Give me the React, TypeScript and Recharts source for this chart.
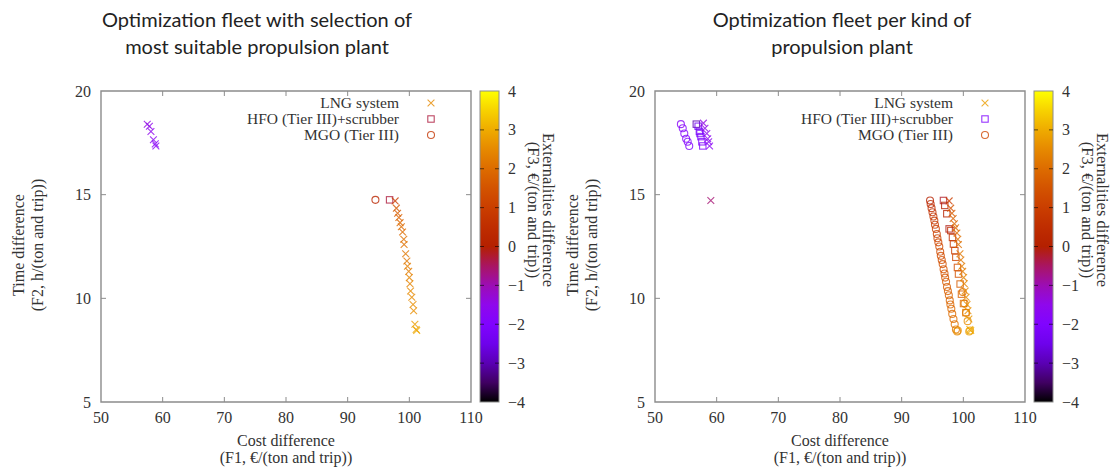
import React from "react";
import { ScatterChart, Scatter, XAxis, YAxis, ReferenceArea } from "recharts";

// x = cost difference (F1), y = time difference (F2), z = externalities difference (F3)
const xTicks = [50, 60, 70, 80, 90, 100, 110];
const yTicks = [5, 10, 15, 20];
const colorbarTicks = [4, 3, 2, 1, 0, -1, -2, -3, -4];

// --- left: fleet with selection of most suitable propulsion plant ---
const leftLngX = [57.5, 57.85, 58.1, 58.5, 58.8, 58.9, 97.7, 97.9, 98.1, 98.3, 98.5, 98.7, 98.9, 99.1, 99.15, 99.4, 99.6, 99.7, 99.9, 100.0, 100.1, 100.2, 100.4, 100.6, 100.7, 100.9, 101.2, 101.1];
const leftLngY = [18.4, 18.3, 18.05, 17.65, 17.45, 17.35, 14.7, 14.35, 14.1, 13.9, 13.65, 13.45, 13.2, 12.85, 12.6, 12.15, 11.8, 11.55, 11.3, 11.0, 10.7, 10.35, 10.05, 9.7, 9.4, 8.75, 8.45, 8.5];
const leftLngZ = [-1.4, -1.5, -1.5, -1.6, -1.7, -1.7, 1.0, 1.6, 1.7, 1.8, 1.9, 2.0, 2.0, 2.1, 2.1, 2.2, 2.2, 2.3, 2.3, 2.4, 2.4, 2.5, 2.5, 2.6, 2.6, 2.8, 3.0, 2.9];
const leftHfoX = [96.8];
const leftHfoY = [14.75];
const leftHfoZ = [-0.3];
const leftMgoX = [94.5];
const leftMgoY = [14.75];
const leftMgoZ = [0.2];

// --- right: fleet per kind of propulsion plant ---
const rightLngX = [57.85, 58.1, 58.4, 58.55, 58.7, 58.85, 59.05, 97.7, 97.95, 98.15, 98.35, 98.55, 98.75, 98.95, 99.1, 99.2, 99.45, 99.6, 99.75, 99.9, 100.05, 100.15, 100.3, 100.45, 100.6, 100.75, 100.9, 101.2, 101.05];
const rightLngY = [18.45, 18.2, 17.95, 17.7, 17.55, 17.35, 14.72, 14.7, 14.35, 14.1, 13.85, 13.6, 13.4, 13.15, 12.85, 12.6, 12.15, 11.85, 11.55, 11.3, 11.0, 10.7, 10.35, 10.05, 9.7, 9.4, 9.0, 8.45, 8.5];
const rightLngZ = [-1.4, -1.5, -1.5, -1.6, -1.6, -1.7, -0.6, 1.0, 1.5, 1.7, 1.8, 1.9, 2.0, 2.0, 2.1, 2.1, 2.2, 2.2, 2.3, 2.3, 2.4, 2.4, 2.5, 2.5, 2.6, 2.6, 2.7, 3.0, 2.9];
const rightHfoX = [56.7, 57.0, 57.3, 57.2, 57.45, 57.6, 57.75, 96.78, 96.99, 97.32, 97.7, 97.97, 98.24, 98.4, 98.62, 98.78, 99.05, 99.22, 99.48, 99.7, 100.03, 100.41];
const rightHfoY = [18.4, 18.3, 17.95, 18.05, 17.8, 17.55, 17.35, 14.72, 14.48, 14.08, 13.35, 13.27, 12.94, 12.62, 12.3, 11.98, 11.49, 11.17, 10.69, 10.2, 9.75, 9.31];
const rightHfoZ = [-3.0, -2.4, -2.2, -2.3, -2.1, -2.0, -2.0, -0.2, 0.0, 0.1, -0.1, 0.3, 0.6, 0.8, 1.0, 1.2, 1.4, 1.5, 1.7, 1.8, 2.0, 2.2];
const rightMgoX = [54.2, 54.5, 54.75, 55.05, 55.3, 55.55, 94.6, 94.7, 94.85, 95.0, 95.15, 95.3, 95.4, 95.55, 95.7, 95.8, 95.95, 96.1, 96.25, 96.35, 96.5, 96.65, 96.8, 96.95, 97.05, 97.2, 97.35, 97.5, 97.65, 97.8, 97.9, 98.05, 98.2, 98.4, 98.6, 98.8, 99.0, 99.1, 99.9, 100.2, 100.45, 100.7, 100.95, 101.1];
const rightMgoY = [18.4, 18.2, 17.95, 17.7, 17.55, 17.35, 14.72, 14.55, 14.35, 14.15, 13.95, 13.75, 13.55, 13.35, 13.1, 12.9, 12.7, 12.5, 12.25, 12.05, 11.85, 11.65, 11.4, 11.2, 11.0, 10.8, 10.55, 10.35, 10.15, 9.9, 9.7, 9.5, 9.25, 9.0, 8.75, 8.5, 8.4, 8.45, 10.3, 9.75, 9.3, 8.9, 8.4, 8.45];
const rightMgoZ = [-1.7, -1.8, -1.8, -1.9, -1.9, -2.0, 0.1, 0.3, 0.5, 0.6, 0.7, 0.8, 0.9, 1.0, 1.05, 1.1, 1.2, 1.25, 1.3, 1.35, 1.4, 1.45, 1.5, 1.55, 1.6, 1.65, 1.7, 1.75, 1.8, 1.85, 1.9, 1.95, 2.0, 2.05, 2.1, 2.2, 2.5, 2.6, 2.1, 2.3, 2.4, 2.6, 2.8, 2.9];

const legendNames = ["LNG system", "HFO (Tier III)+scrubber", "MGO (Tier III)"];
const leftLegendZ = [2.5, -0.3, 0.7];
const rightLegendZ = [2.8, -2.0, 1.2];

// plot geometry (inside each panel)
const H = 468;
const PL = 101;
const PR = 471;
const PT = 91;
const PB = 402;
const serif: React.CSSProperties = { fontFamily: '"Liberation Serif", "DejaVu Serif", "Times New Roman", serif' };
const sans: React.CSSProperties = { fontFamily: 'Lato, "Open Sans", sans-serif' };
const MARK_OPACITY = 0.8;

// gnuplot default pm3d palette (rgbformulae 7,5,15)
const palette = (z: number) => {
  const t = Math.min(1, Math.max(0, (z + 4) / 8));
  const r = Math.sqrt(t);
  const g = t * t * t;
  const b = Math.max(0, Math.sin(2 * Math.PI * t));
  const h = (v: number) => Math.round(v * 255).toString(16).padStart(2, "0");
  return `#${h(r)}${h(g)}${h(b)}`;
};

const zip = (xs: number[], ys: number[], zs: number[]) =>
  xs.map((x, i) => ({ x, y: ys[i], z: zs[i] }));

const S = 3.4;
const crossPath = (cx: number, cy: number) =>
  `M${cx - S},${cy - S}L${cx + S},${cy + S}M${cx - S},${cy + S}L${cx + S},${cy - S}`;

const Cross = (p: any) => (
  <path d={crossPath(p.cx, p.cy)} stroke={palette(p.payload.z)} strokeOpacity={MARK_OPACITY} strokeWidth={1.1} fill="none" />
);
const Square = (p: any) => (
  <rect x={p.cx - 3.2} y={p.cy - 3.2} width={6.4} height={6.4} stroke={palette(p.payload.z)} strokeOpacity={MARK_OPACITY} strokeWidth={1.1} fill="none" />
);
const Ring = (p: any) => (
  <circle cx={p.cx} cy={p.cy} r={3.5} stroke={palette(p.payload.z)} strokeOpacity={MARK_OPACITY} strokeWidth={1.1} fill="none" />
);

const XTick = (p: any) => {
  const v = p.payload.value;
  const edge = v === 50 || v === 110;
  return (
    <g>
      {!edge && <line x1={p.x} x2={p.x} y1={PB} y2={PB - 5} stroke="#8c8c8c" />}
      {!edge && <line x1={p.x} x2={p.x} y1={PT} y2={PT + 5} stroke="#8c8c8c" />}
      <text x={p.x} y={PB + 21} textAnchor="middle" fontSize={16} style={serif} fill="#333">
        {v}
      </text>
    </g>
  );
};

const YTick = (p: any) => {
  const v = p.payload.value;
  const edge = v === 5 || v === 20;
  return (
    <g>
      {!edge && <line x1={PL} x2={PL + 5} y1={p.y} y2={p.y} stroke="#8c8c8c" />}
      {!edge && <line x1={PR} x2={PR - 5} y1={p.y} y2={p.y} stroke="#8c8c8c" />}
      <text x={PL - 10} y={p.y + 5.5} textAnchor="end" fontSize={16} style={serif} fill="#333">
        {v}
      </text>
    </g>
  );
};

type Pt = { x: number; y: number; z: number };
type PanelProps = {
  left: number;
  width: number;
  title: string[];
  titleX: number;
  lng: Pt[];
  hfo: Pt[];
  mgo: Pt[];
  legendZ: number[];
  id: string;
};

const Panel = ({ left, width, title, titleX, lng, hfo, mgo, legendZ, id }: PanelProps) => {
  const cbX = 480;
  const cbW = 19;
  const zy = (z: number) => PT + ((4 - z) / 8) * (PB - PT);
  const stops = colorbarTicks.flatMap((t) => [t, t - 0.5]).filter((z) => z >= -4);
  const markers = [
    (x: number, y: number, c: string) => <path d={crossPath(x, y)} stroke={c} strokeOpacity={MARK_OPACITY} strokeWidth={1.1} fill="none" />,
    (x: number, y: number, c: string) => <rect x={x - 3.2} y={y - 3.2} width={6.4} height={6.4} stroke={c} strokeOpacity={MARK_OPACITY} strokeWidth={1.1} fill="none" />,
    (x: number, y: number, c: string) => <circle cx={x} cy={y} r={3.5} stroke={c} strokeOpacity={MARK_OPACITY} strokeWidth={1.1} fill="none" />,
  ];
  return (
    <div style={{ position: "absolute", left, top: 0, width, height: H }}>
      <ScatterChart width={width} height={H} margin={{ top: PT, right: width - PR, bottom: 36, left: 61 }}>
        <XAxis type="number" dataKey="x" domain={[50, 110]} ticks={xTicks} interval={0} height={30} axisLine={false} tickLine={false} tick={XTick} />
        <YAxis type="number" dataKey="y" domain={[5, 20]} ticks={yTicks} interval={0} width={40} axisLine={false} tickLine={false} tick={YTick} />
        <ReferenceArea x1={50} x2={110} y1={5} y2={20} fill="none" fillOpacity={0} stroke="#8c8c8c" strokeWidth={1.4} ifOverflow="visible" />
        <Scatter name="MGO (Tier III)" data={mgo} shape={Ring} isAnimationActive={false} />
        <Scatter name="HFO (Tier III)+scrubber" data={hfo} shape={Square} isAnimationActive={false} />
        <Scatter name="LNG system" data={lng} shape={Cross} isAnimationActive={false} />
      </ScatterChart>
      <svg width={width} height={H} style={{ position: "absolute", left: 0, top: 0, pointerEvents: "none" }}>
        <defs>
          <linearGradient id={id} x1="0" y1="0" x2="0" y2="1">
            {stops.map((z) => (
              <stop key={z} offset={(4 - z) / 8} stopColor={palette(z)} />
            ))}
          </linearGradient>
        </defs>
        {title.map((t, i) => (
          <text key={t} x={titleX} y={27 + i * 27} textAnchor="middle" fontSize={20} style={sans} fill="#222">
            {t}
          </text>
        ))}
        <g style={serif} fontSize={16} fill="#333" textAnchor="middle">
          <text x={(PL + PR) / 2} y={PB + 44}>Cost difference</text>
          <text x={(PL + PR) / 2} y={PB + 61}>(F1, €/(ton and trip))</text>
          <text transform={`translate(24,245) rotate(-90)`}>Time difference</text>
          <text transform={`translate(43,245) rotate(-90)`}>(F2, h/(ton and trip))</text>
          <text transform={`translate(543,210) rotate(90)`} fontSize={16.5}>Externalities difference</text>
          <text transform={`translate(528,210) rotate(90)`} fontSize={16.5}>(F3, €/(ton and trip))</text>
        </g>
        {legendNames.map((n, i) => (
          <g key={n}>
            <text x={399} y={108 + i * 16} textAnchor="end" fontSize={15.5} style={serif} fill="#333">
              {n}
            </text>
            {markers[i](431, 103 + i * 16, palette(legendZ[i]))}
          </g>
        ))}
        <rect x={cbX} y={PT} width={cbW} height={PB - PT} fill={`url(#${id})`} stroke="#8c8c8c" strokeWidth={1} />
        {colorbarTicks.map((t) => (
          <g key={t}>
            {t !== 4 && t !== -4 && (
              <>
                <line x1={cbX} x2={cbX + 4} y1={zy(t)} y2={zy(t)} stroke="#000" strokeOpacity={0.6} />
                <line x1={cbX + cbW} x2={cbX + cbW - 4} y1={zy(t)} y2={zy(t)} stroke="#000" strokeOpacity={0.6} />
              </>
            )}
            <text x={cbX + 28} y={zy(t) + 5.5} fontSize={16} style={serif} fill="#333">
              {t < 0 ? `\u2212${Math.abs(t)}` : t}
            </text>
          </g>
        ))}
      </svg>
    </div>
  );
};

const App: React.FC = () => {
  return (
    <div style={{ position: "relative", width: 1118, height: H, background: "#fff", overflow: "hidden" }}>
      <style>{"body{margin:0}"}</style>
      <Panel
        id="cbLeft"
        left={0}
        width={560}
        title={["Optimization fleet with selection of", "most suitable propulsion plant"]}
        titleX={257}
        lng={zip(leftLngX, leftLngY, leftLngZ)}
        hfo={zip(leftHfoX, leftHfoY, leftHfoZ)}
        mgo={zip(leftMgoX, leftMgoY, leftMgoZ)}
        legendZ={leftLegendZ}
      />
      <Panel
        id="cbRight"
        left={554}
        width={564}
        title={["Optimization fleet per kind of", "propulsion plant"]}
        titleX={288}
        lng={zip(rightLngX, rightLngY, rightLngZ)}
        hfo={zip(rightHfoX, rightHfoY, rightHfoZ)}
        mgo={zip(rightMgoX, rightMgoY, rightMgoZ)}
        legendZ={rightLegendZ}
      />
    </div>
  );
};

export default App;
